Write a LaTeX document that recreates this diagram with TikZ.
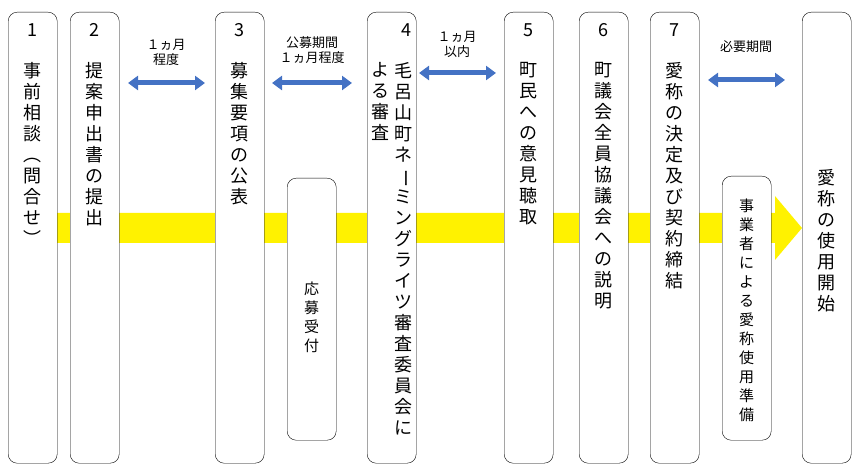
\documentclass[tikz,border=0pt]{standalone}
\usepackage{fontspec}
\setmainfont{Noto Sans CJK JP}
\usepackage{graphicx}
\usetikzlibrary{arrows.meta}
\newcommand{\vbar}{\rotatebox[origin=c]{-90}{ー}}
\tikzset{
    stepbox/.style={
        draw=black, % 枠線
        fill=white,
        rounded corners=9pt,
        minimum width=49pt,
        anchor=north west,
        inner sep=0
    },
    numlabel/.style={
        font=\fontsize{18}{18}\selectfont
    },
    vtext/.style={
        align=center,
        anchor=north,
        inner sep=0,
        font=\fontsize{18}{21}\selectfont
    },
    blueline/.style={
        line width=5pt,
        {Triangle[length=10pt,width=14pt]}-{Triangle[length=10pt,width=14pt]},
        color={rgb,255:red,68;green,114;blue,196}
    },
    periodlabel/.style={
        align=center,
        inner sep=0,
        font=\fontsize{13}{15}\selectfont
    }
}
\begin{document}
\begin{tikzpicture}[x=1pt,y=-1pt]
\useasboundingbox (0,0) rectangle (863,473);
% 黄色の矢印
\fill[yellow] (57,213) -- (775,213) -- (775,196) -- (802,228) -- (775,260) -- (775,243) -- (57,243) -- cycle;
% 各段階
\node[stepbox,minimum height=451pt] (b1) at (8,12) {};
\node[stepbox,minimum height=451pt] (b2) at (70,12) {};
\node[stepbox,minimum height=451pt] (b3) at (215,12) {};
\node[stepbox,minimum height=451pt] (b4) at (367,12) {};
\node[stepbox,minimum height=451pt] (b5) at (504,12) {};
\node[stepbox,minimum height=451pt] (b6) at (579,12) {};
\node[stepbox,minimum height=451pt] (b7) at (650,12) {};
\node[stepbox,minimum height=451pt] (b8) at (802,12) {};
\node[stepbox,minimum height=262pt] (s1) at (287,178) {};
\node[stepbox,minimum height=264pt] (s2) at (722,176) {};
% 番号
\node[numlabel] (n1) at ([yshift=-18pt]b1.north) {1};
\node[numlabel] (n2) at ([yshift=-18pt]b2.north) {2};
\node[numlabel] (n3) at ([yshift=-18pt]b3.north) {3};
\node[numlabel] (n4) at ([xshift=15pt,yshift=-18pt]b4.north) {4};
\node[numlabel] (n5) at ([yshift=-18pt]b5.north) {5};
\node[numlabel] (n6) at ([yshift=-18pt]b6.north) {6};
\node[numlabel] (n7) at ([yshift=-18pt]b7.north) {7};
% 縦書き
\node[vtext] (t1) at ([yshift=-50pt]b1.north) {事\\前\\相\\談\\︵\\問\\合\\せ\\︶};
\node[vtext] (t2) at ([yshift=-50pt]b2.north) {提\\案\\申\\出\\書\\の\\提\\出};
\node[vtext] (t3) at ([yshift=-50pt]b3.north) {募\\集\\要\\項\\の\\公\\表};
\node[vtext] (t4a) at ([xshift=12pt,yshift=-50pt]b4.north) {毛\\呂\\山\\町\\ネ\\\vbar\\ミ\\ン\\グ\\ラ\\イ\\ツ\\審\\査\\委\\員\\会\\に};
\node[vtext] (t4b) at ([xshift=-11pt,yshift=-50pt]b4.north) {よ\\る\\審\\査};
\node[vtext] (t5) at ([yshift=-50pt]b5.north) {町\\民\\へ\\の\\意\\見\\聴\\取};
\node[vtext] (t6) at ([yshift=-50pt]b6.north) {町\\議\\会\\全\\員\\協\\議\\会\\へ\\の\\説\\明};
\node[vtext] (t7) at ([yshift=-50pt]b7.north) {愛\\称\\の\\決\\定\\及\\び\\契\\約\\締\\結};
\node[vtext,anchor=center] (t8) at ([yshift=-3pt]b8.center) {愛\\称\\の\\使\\用\\開\\始};
\node[vtext,anchor=center,font=\fontsize{15}{19}\selectfont] (ts1) at ([yshift=-8pt]s1.center) {応\\募\\受\\付};
\node[vtext,anchor=center,font=\fontsize{15}{19}\selectfont] (ts2) at ([yshift=-2pt]s2.center) {事\\業\\者\\に\\よ\\る\\愛\\称\\使\\用\\準\\備};
% 期間
\coordinate (a1) at (128,83); \coordinate (a2) at (205,83);
\coordinate (a3) at (272,83); \coordinate (a4) at (352,83);
\coordinate (a5) at (419,73); \coordinate (a6) at (496,73);
\coordinate (a7) at (708,80); \coordinate (a8) at (785,80);
\draw[blueline] (a1) -- (a2);
\draw[blueline] (a3) -- (a4);
\draw[blueline] (a5) -- (a6);
\draw[blueline] (a7) -- (a8);
\node[periodlabel] (p1) at (166,52) {１ヵ月\\程度};
\node[periodlabel] (p2) at (312,50) {公募期間\\１ヵ月程度};
\node[periodlabel] (p3) at (457,44) {１ヵ月\\以内};
\node[periodlabel] (p4) at (746,47) {必要期間};
\end{tikzpicture}
\end{document}
